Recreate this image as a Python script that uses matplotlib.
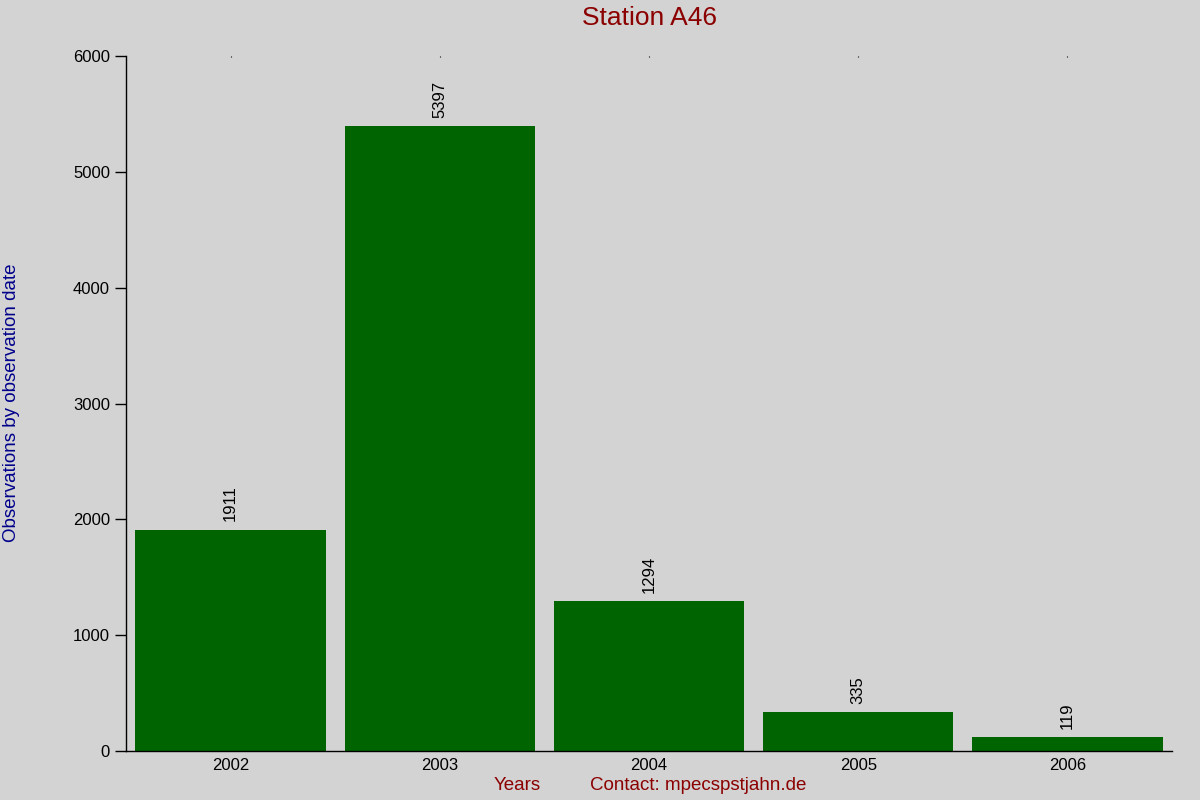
import matplotlib
matplotlib.use("Agg")
import matplotlib.pyplot as plt

years = ["2002", "2003", "2004", "2005", "2006"]
counts = [1911, 5397, 1294, 335, 119]
yticks = [0, 1000, 2000, 3000, 4000, 5000, 6000]

plt.rcParams['font.family'] = ['Liberation Sans', 'DejaVu Sans']
bg = '#d3d3d3'
fig = plt.figure(figsize=(12, 8), dpi=100, facecolor=bg)
ax = fig.add_axes([0.105, 0.06125, 0.8717, 0.86875], facecolor=bg)

x = list(range(len(years)))
ax.bar(x, counts, width=0.91, color='#006400')
for xi, c in zip(x, counts):
    ax.annotate(str(c), (xi, c), xytext=(0, 6), textcoords='offset points',
                rotation=90, ha='center', va='bottom', fontsize=12)

ax.set_xlim(-0.5, 4.5)
ax.set_ylim(0, 6000)
ax.set_yticks(yticks)
ax.set_yticklabels([str(v) for v in yticks], fontsize=12)
ax.set_xticks(x)
ax.set_xticklabels(years, fontsize=12)
ax.tick_params(axis='x', bottom=False, top=True, length=1, direction='in', pad=5)
ax.tick_params(axis='y', length=8, direction='out', width=1)
for s in ['top', 'right']:
    ax.spines[s].set_visible(False)
ax.spines['left'].set_linewidth(1)
ax.spines['bottom'].set_linewidth(1)

fig.text(649/1200, 1 - 18/800, "Station A46", color='#8b0000', fontsize=19, ha='center', va='center')
fig.text(12/1200, 1 - 403/800, "Observations by observation date", color='#00008b', fontsize=13.5,
         rotation=90, ha='center', va='center')
fig.text(517/1200, 1 - 786/800, "Years", color='#8b0000', fontsize=13.5, ha='center', va='center')
fig.text(698/1200, 1 - 786/800, "Contact: mpecspstjahn.de", color='#8b0000', fontsize=13.5, ha='center', va='center')

fig.savefig("out.png", dpi=100, facecolor=bg)
